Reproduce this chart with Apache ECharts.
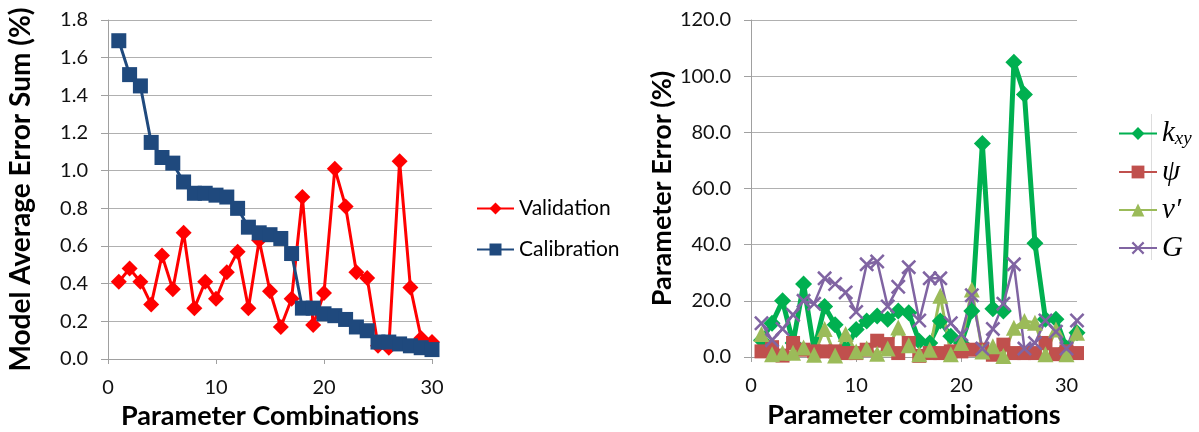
<!DOCTYPE html>
<html>
<head>
<meta charset="utf-8">
<script src="https://cdn.jsdelivr.net/npm/echarts@6/dist/echarts.min.js"></script>
<style>html,body{margin:0;padding:0;background:#fff;}#c{width:1199px;height:432px;}</style>
</head>
<body>
<div id="c"></div>
<script>
// ---- Left chart data ----
const leftX = [1,2,3,4,5,6,7,8,9,10,11,12,13,14,15,16,17,18,19,20,21,22,23,24,25,26,27,28,29,30];
const validation = [0.41,0.48,0.41,0.29,0.55,0.37,0.67,0.27,0.41,0.32,0.46,0.57,0.27,0.63,0.36,0.17,0.32,0.86,0.18,0.35,1.01,0.81,0.46,0.43,0.07,0.06,1.05,0.38,0.11,0.09];
const calibration = [1.69,1.51,1.45,1.15,1.07,1.04,0.94,0.88,0.88,0.87,0.86,0.80,0.70,0.67,0.66,0.64,0.56,0.27,0.27,0.24,0.23,0.21,0.17,0.15,0.09,0.09,0.08,0.07,0.06,0.05];
const leftYTicks = [0,0.2,0.4,0.6,0.8,1.0,1.2,1.4,1.6,1.8];

// ---- Right chart data ----
const rightX = [1,2,3,4,5,6,7,8,9,10,11,12,13,14,15,16,17,18,19,20,21,22,23,24,25,26,27,28,29,30,31];
const kxy = [6,12,20,5,26,2.5,18,11.5,2.5,9.8,12.8,14.6,13.4,16.4,15.8,5.6,5,12.8,7.4,5,16.4,76,17.2,16.4,105,93.5,40.5,13.4,13.4,3.2,8.6];
const psi = [2,3.5,0.5,5,2.6,2,2,2,1.4,1.4,2.6,5.8,4.6,1.4,5,0.4,1.4,1.4,2,2,2.6,2.6,0.8,4.4,1.4,1.4,1.4,5,1,2,1.4];
const nu = [8.2,1,1.5,1.5,3.4,0.8,10,0.5,8.2,2,3,1.2,3,10.5,4.2,1,2.6,21.8,1,5,24,2,3.8,0.4,10.4,12.8,12.2,1,9.8,1,8.6];
const G = [12,6,10,15,20,19,28,26,23,16,33,34,18,25,32,13,28,28,12,8,22,3,10,19,33,3,5,13,9,3,13];
const rightYTicks = [0,20,40,60,80,100,120];

const pairs = (xs, ys) => xs.map((x, i) => [x, ys[i]]);
const crossPath = 'path://M0,1.2L1.2,0L5,3.8L8.8,0L10,1.2L6.2,5L10,8.8L8.8,10L5,6.2L1.2,10L0,8.8L3.8,5Z';

const FONT = 'Lato';
const tickLabel = {color: '#111', fontFamily: FONT, fontSize: 20};
const axisLine = {show: true, lineStyle: {color: '#A0A0A0', width: 1}};
const splitLine = {show: true, lineStyle: {color: '#B0B0B0', width: 1}};
const nameStyle = {color: '#000', fontFamily: FONT, fontSize: 27, fontWeight: 'bold'};

const chart = echarts.init(document.getElementById('c'), null, {renderer: 'canvas'});
chart.setOption({
  animation: false,
  backgroundColor: '#fff',
  grid: [
    {left: 108, top: 20, width: 324, height: 339, containLabel: false, outerBoundsMode: 'none'},
    {left: 751, top: 20, width: 326, height: 337, containLabel: false, outerBoundsMode: 'none'}
  ],
  xAxis: [
    {type: 'value', gridIndex: 0, min: 0, max: 30, interval: 10,
     name: 'Parameter Combinations', nameLocation: 'middle', nameGap: 42, nameTextStyle: nameStyle,
     axisLine: axisLine, axisTick: {show: true, length: 5, lineStyle: {color: '#A0A0A0'}},
     axisLabel: Object.assign({margin: 19}, tickLabel), splitLine: {show: false}},
    {type: 'value', gridIndex: 1, min: 0, max: 31, interval: 10,
     name: 'Parameter combinations', nameLocation: 'middle', nameGap: 45, nameTextStyle: nameStyle,
     axisLine: axisLine, axisTick: {show: true, length: 5, lineStyle: {color: '#A0A0A0'}},
     axisLabel: Object.assign({margin: 19, showMaxLabel: false,
       formatter: v => (v % 10 === 0 ? String(v) : '')}, tickLabel), splitLine: {show: false}}
  ],
  yAxis: [
    {type: 'value', gridIndex: 0, min: leftYTicks[0], max: leftYTicks[leftYTicks.length-1], interval: 0.2,
     name: 'Model Average Error Sum (%)', nameLocation: 'middle', nameGap: 73, nameTextStyle: Object.assign({}, nameStyle, {fontSize: 28}),
     axisLine: axisLine, axisTick: {show: true, length: 7, lineStyle: {color: '#A0A0A0'}},
     axisLabel: Object.assign({margin: 20, formatter: v => v.toFixed(1)}, tickLabel), splitLine: splitLine},
    {type: 'value', gridIndex: 1, min: rightYTicks[0], max: rightYTicks[rightYTicks.length-1], interval: 20,
     name: 'Parameter Error (%)', nameLocation: 'middle', nameGap: 73, nameTextStyle: nameStyle,
     axisLine: axisLine, axisTick: {show: true, length: 7, lineStyle: {color: '#A0A0A0'}},
     axisLabel: Object.assign({margin: 20, formatter: v => v.toFixed(1)}, tickLabel), splitLine: splitLine}
  ],
  legend: [
    {data: ['Validation', 'Calibration'], orient: 'vertical', left: 471, top: 193,
     itemWidth: 37, itemHeight: 15, itemGap: 20,
     textStyle: {color: '#000', fontFamily: FONT, fontSize: 21}},
    {data: ['kxy', 'psi', 'nu', 'G'], orient: 'vertical', left: 1113, top: 114,
     itemWidth: 38, itemHeight: 16, itemGap: 9,
     formatter: function (n) {
       if (n === 'kxy') return '{it|k}{sub|xy}';
       if (n === 'psi') return '{it|ψ}';
       if (n === 'nu') return '{it|ν′}';
       return '{it|G}';
     },
     textStyle: {color: '#000', fontFamily: 'Liberation Serif', fontSize: 26,
       rich: {
         it: {fontFamily: 'Liberation Serif', fontStyle: 'italic', fontSize: 29, lineHeight: 30, color: '#000'},
         sub: {fontFamily: 'Liberation Serif', fontStyle: 'italic', fontSize: 19, lineHeight: 30, verticalAlign: 'bottom', padding: [10, 0, 0, 0], color: '#000'}
       }}}
  ],
  series: [
    {name: 'Validation', type: 'line', xAxisIndex: 0, yAxisIndex: 0, data: pairs(leftX, validation),
     symbol: 'diamond', symbolSize: 16, itemStyle: {color: '#FF0000'}, lineStyle: {color: '#FF0000', width: 3}},
    {name: 'Calibration', type: 'line', xAxisIndex: 0, yAxisIndex: 0, data: pairs(leftX, calibration),
     symbol: 'rect', symbolSize: 15, itemStyle: {color: '#1F497D'}, lineStyle: {color: '#1F497D', width: 3}},
    {name: 'kxy', type: 'line', xAxisIndex: 1, yAxisIndex: 1, data: pairs(rightX, kxy),
     symbol: 'diamond', symbolSize: 17, itemStyle: {color: '#00B050'}, lineStyle: {color: '#00B050', width: 5}},
    {name: 'psi', type: 'line', xAxisIndex: 1, yAxisIndex: 1, data: pairs(rightX, psi),
     symbol: 'rect', symbolSize: 14, itemStyle: {color: '#C0504D'}, lineStyle: {color: '#C0504D', width: 3}},
    {name: 'nu', type: 'line', xAxisIndex: 1, yAxisIndex: 1, data: pairs(rightX, nu),
     symbol: 'triangle', symbolSize: 16, itemStyle: {color: '#9BBB59'}, lineStyle: {color: '#9BBB59', width: 3}},
    {name: 'G', type: 'line', xAxisIndex: 1, yAxisIndex: 1, data: pairs(rightX, G),
     symbol: crossPath, symbolSize: 15, itemStyle: {color: '#8064A2'}, lineStyle: {color: '#8064A2', width: 2.5}}
  ],
  graphic: [
    {type: 'line', shape: {x1: 1151.5, y1: 114, x2: 1151.5, y2: 260}, style: {stroke: '#DDDDDD', lineWidth: 1}, silent: true}
  ]
});
</script>
</body>
</html>
